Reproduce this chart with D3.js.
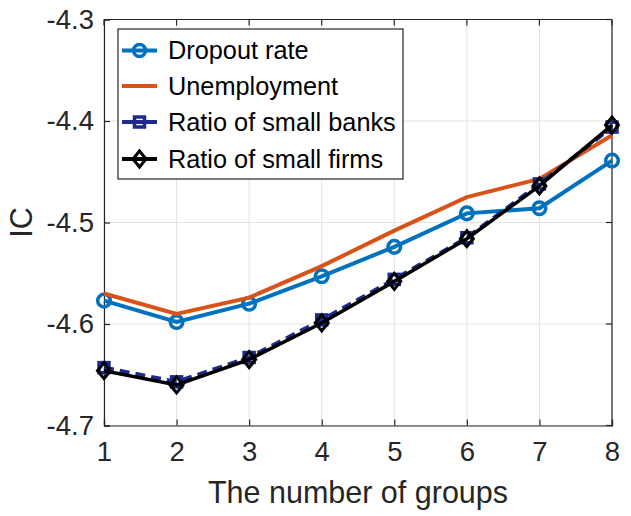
<!DOCTYPE html>
<html>
<head>
<meta charset="utf-8">
<script src="https://cdn.jsdelivr.net/npm/d3@7"></script>
<style>
  body { margin: 0; background: #fff; }
  svg { display: block; font-family: "Liberation Sans", Arial, sans-serif; }
</style>
</head>
<body>
<svg id="chart" width="631" height="516"></svg>
<script>
// Number of groups on the x axis
const groups = [1, 2, 3, 4, 5, 6, 7, 8];
// IC values per grouping variable
const dropoutRate   = [-4.577, -4.598, -4.580, -4.553, -4.524, -4.491, -4.486, -4.439];
const unemployment  = [-4.570, -4.590, -4.574, -4.543, -4.508, -4.475, -4.457, -4.414];
const smallBanks    = [-4.643, -4.657, -4.633, -4.596, -4.556, -4.515, -4.462, -4.406];
const smallFirms    = [-4.646, -4.660, -4.635, -4.599, -4.558, -4.516, -4.464, -4.404];
const yTicks = [-4.7, -4.6, -4.5, -4.4, -4.3];
const seriesNames = ["Dropout rate", "Unemployment", "Ratio of small banks", "Ratio of small firms"];

const svg = d3.select("#chart");
const plotLeft = 104, plotRight = 612, plotTop = 19.5, plotBottom = 425.5;

const x = d3.scaleLinear().domain([1, 8]).range([plotLeft, plotRight]);
const y = d3.scaleLinear().domain([-4.7, -4.3]).range([plotBottom, plotTop]);

// Grid lines
const grid = svg.append("g");
grid.selectAll(".gx").data(groups).enter().append("line")
  .attr("x1", d => x(d)).attr("x2", d => x(d))
  .attr("y1", plotTop).attr("y2", plotBottom)
  .attr("stroke", "#e3e3e3").attr("stroke-width", 1);
grid.selectAll(".gy").data(yTicks).enter().append("line")
  .attr("x1", plotLeft).attr("x2", plotRight)
  .attr("y1", d => y(d)).attr("y2", d => y(d))
  .attr("stroke", "#e3e3e3").attr("stroke-width", 1);

// Axes
const axisColor = "#262626";
const fmt = d => d3.format(".1f")(d).replace("−", "-");
const xAxis = svg.append("g").attr("transform", `translate(0,${plotBottom})`)
  .call(d3.axisBottom(x).tickValues(groups).tickSize(-6).tickPadding(16).tickFormat(d3.format("d")));
const yAxis = svg.append("g").attr("transform", `translate(${plotLeft},0)`)
  .call(d3.axisLeft(y).tickValues(yTicks).tickSize(-6).tickPadding(10).tickFormat(fmt));
[xAxis, yAxis].forEach(a => {
  a.select(".domain").attr("stroke", axisColor).attr("stroke-width", 1.2);
  a.selectAll(".tick line").attr("stroke", axisColor).attr("stroke-width", 1.2);
  a.selectAll(".tick text").attr("fill", axisColor).attr("font-size", 27.5)
    .attr("font-family", "Liberation Sans, Arial, sans-serif");
});
// Top and right box edges with inward ticks
const box = svg.append("g").attr("stroke", axisColor).attr("stroke-width", 1.2);
box.append("line").attr("x1", plotLeft).attr("x2", plotRight).attr("y1", plotTop).attr("y2", plotTop);
box.append("line").attr("x1", plotRight).attr("x2", plotRight).attr("y1", plotTop).attr("y2", plotBottom);
box.selectAll(".tt").data(groups).enter().append("line")
  .attr("x1", d => x(d)).attr("x2", d => x(d)).attr("y1", plotTop).attr("y2", plotTop + 6);
box.selectAll(".tr").data(yTicks).enter().append("line")
  .attr("x1", plotRight).attr("x2", plotRight - 6).attr("y1", d => y(d)).attr("y2", d => y(d));

// Axis labels
svg.append("text").attr("x", (plotLeft + plotRight) / 2).attr("y", 503)
  .attr("text-anchor", "middle").attr("font-size", 30.5).attr("fill", axisColor)
  .text("The number of groups");
svg.append("text").attr("transform", `translate(32,${(plotTop + plotBottom) / 2}) rotate(-90)`)
  .attr("text-anchor", "middle").attr("font-size", 30.5).attr("fill", axisColor)
  .text("IC");

const line = d3.line().x((d, i) => x(groups[i])).y(d => y(d));
const plot = svg.append("g");

const blue = "#0072BD", orange = "#D95319", navy = "#1C2B8C", black = "#000000";

// Dropout rate: solid blue with circles
plot.append("path").datum(dropoutRate).attr("d", line)
  .attr("fill", "none").attr("stroke", blue).attr("stroke-width", 4);
plot.selectAll(".c").data(dropoutRate).enter().append("circle")
  .attr("cx", (d, i) => x(groups[i])).attr("cy", d => y(d)).attr("r", 6.3)
  .attr("fill", "none").attr("stroke", blue).attr("stroke-width", 3.5);

// Unemployment: solid orange
plot.append("path").datum(unemployment).attr("d", line)
  .attr("fill", "none").attr("stroke", orange).attr("stroke-width", 4);

// Ratio of small banks: dashed navy with squares
plot.append("path").datum(smallBanks).attr("d", line)
  .attr("fill", "none").attr("stroke", navy).attr("stroke-width", 4)
  .attr("stroke-dasharray", "10,6");
plot.selectAll(".s").data(smallBanks).enter().append("rect")
  .attr("x", (d, i) => x(groups[i]) - 5).attr("y", d => y(d) - 5)
  .attr("width", 10).attr("height", 10)
  .attr("fill", "none").attr("stroke", navy).attr("stroke-width", 3.5);

// Ratio of small firms: solid black with diamonds
const diamond = (cx, cy) => `M${cx},${cy - 8}L${cx + 6.5},${cy}L${cx},${cy + 8}L${cx - 6.5},${cy}Z`;
plot.append("path").datum(smallFirms).attr("d", line)
  .attr("fill", "none").attr("stroke", black).attr("stroke-width", 3.5);
plot.selectAll(".d").data(smallFirms).enter().append("path")
  .attr("d", (d, i) => diamond(x(groups[i]), y(d)))
  .attr("fill", "none").attr("stroke", black).attr("stroke-width", 3);

// Legend
const lg = svg.append("g");
lg.append("rect").attr("x", 118).attr("y", 29).attr("width", 285).attr("height", 150)
  .attr("fill", "#fff").attr("stroke", axisColor).attr("stroke-width", 1.2);
const rowY = [50.5, 86, 122, 159];
const styles = [
  { color: blue, marker: "circle" },
  { color: orange, marker: null },
  { color: navy, marker: "square" },
  { color: black, marker: "diamond" }
];
seriesNames.forEach((name, i) => {
  const yy = rowY[i], st = styles[i];
  lg.append("line").attr("x1", 122).attr("x2", 157).attr("y1", yy).attr("y2", yy)
    .attr("stroke", st.color).attr("stroke-width", 4);
  if (st.marker === "circle") {
    lg.append("circle").attr("cx", 139.5).attr("cy", yy).attr("r", 6)
      .attr("fill", "none").attr("stroke", st.color).attr("stroke-width", 3.5);
  } else if (st.marker === "square") {
    lg.append("rect").attr("x", 134.5).attr("y", yy - 5).attr("width", 10).attr("height", 10)
      .attr("fill", "none").attr("stroke", st.color).attr("stroke-width", 3.5);
  } else if (st.marker === "diamond") {
    lg.append("path").attr("d", diamond(139.5, yy))
      .attr("fill", "none").attr("stroke", st.color).attr("stroke-width", 3);
  }
  lg.append("text").attr("x", 168).attr("y", yy).attr("dy", "0.35em")
    .attr("font-size", 25.3).attr("fill", "#000").text(name);
});
</script>
</body>
</html>
